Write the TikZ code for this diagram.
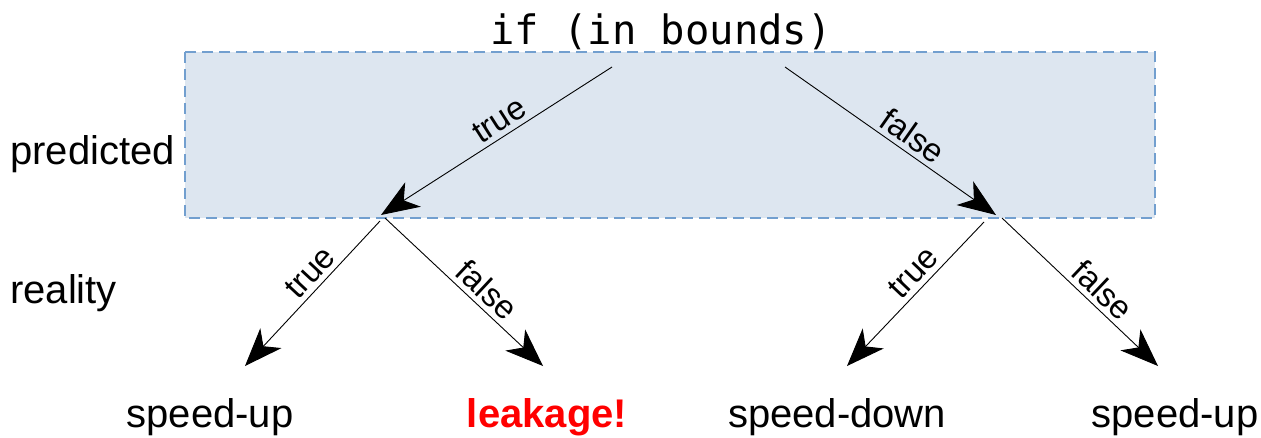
\documentclass[tikz,border=0pt]{standalone}
\usepackage{fontspec}
\setmainfont{Liberation Sans}
\setmonofont{DejaVu Sans Mono}
\usetikzlibrary{arrows.meta}
\definecolor{boxfill}{RGB}{221,230,240}
\definecolor{boxline}{RGB}{114,159,207}
\definecolor{leak}{RGB}{255,0,0}
\begin{document}
\begin{tikzpicture}[x=1pt,y=-1pt,
  arr/.style={draw=black, line width=0.9pt, -{Stealth[length=38pt,width=29pt,inset=11pt]}},
  lbl/.style={font=\fontsize{33}{38}\selectfont, sloped, above, inner sep=5pt},
  big/.style={font=\fontsize{40}{48}\selectfont, inner sep=0pt, anchor=base},
  predbox/.style={draw=boxline, line width=1.2pt, dash pattern=on 11pt off 6pt, fill=boxfill},
 ]
\useasboundingbox (0,0) rectangle (1261,437);
\path[predbox] (185,52) rectangle (1155,218);
\node[big, font=\fontsize{40.5}{48}\ttfamily] (root) at (661,44) {if (in bounds)};
\node[big, anchor=base west] (pred) at (10,164) {predicted};
\node[big, anchor=base west] (real) at (10,303) {reality};
\node[big] (l1) at (210,427) {speed-up};
\node[big, text=leak, font=\fontsize{40}{48}\bfseries] (l2) at (547,427) {leakage!};
\node[big] (l3) at (837,427) {speed-down};
\node[big] (l4) at (1175,427) {speed-up};
\coordinate (s1) at (612,67);
\coordinate (s2) at (785,67);
\coordinate (b1) at (381,215);
\coordinate (b2) at (996,215);
\coordinate (b1l) at (380,221);
\coordinate (b1r) at (385,218);
\coordinate (b2l) at (984,222);
\coordinate (b2r) at (1002,218);
\coordinate (t1) at (245,366);
\coordinate (t2) at (543,366);
\coordinate (t3) at (847,366);
\coordinate (t4) at (1158,366);
\draw[arr] (s1) -- node[lbl, pos=0.45] {true} (b1);
\draw[arr] (s2) -- node[lbl, pos=0.56] {false} (b2);
\draw[arr] (b1l) -- node[lbl, pos=0.43] {true} (t1);
\draw[arr] (b1r) -- node[lbl, pos=0.57] {false} (t2);
\draw[arr] (b2l) -- node[lbl, pos=0.43] {true} (t3);
\draw[arr] (b2r) -- node[lbl, pos=0.57] {false} (t4);
\end{tikzpicture}
\end{document}
